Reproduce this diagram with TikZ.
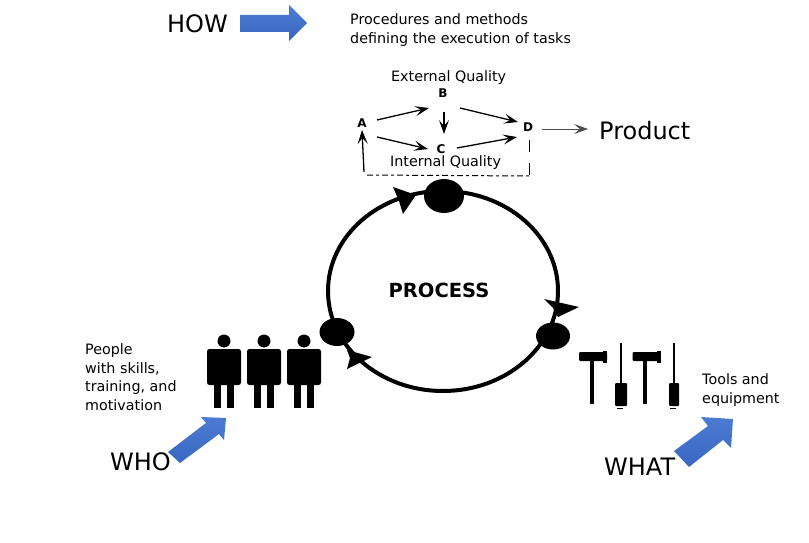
\documentclass[tikz,border=0pt]{standalone}
\usepackage{fontspec}
\setmainfont{DejaVu Sans}
\usetikzlibrary{arrows.meta,shapes.geometric}
\tikzset{
  big/.style={inner sep=0,font=\fontsize{24}{26}\selectfont},
  small/.style={inner sep=0,align=left,anchor=west,font=\fontsize{14.3}{18.5}\selectfont},
  letter/.style={inner sep=0,font=\bfseries\fontsize{12}{13}\selectfont},
  blob/.style={ellipse,fill=black,inner sep=0},
  arr/.style={line width=1.3pt,-{Stealth[length=14pt,width=10pt,inset=6pt]}},
  bluearrow/.style={draw=none,top color=blue1,bottom color=blue2},
}
\definecolor{blue1}{HTML}{4C7BD3}
\definecolor{blue2}{HTML}{3A68C0}
\begin{document}
\begin{tikzpicture}[x=1pt,y=-1pt]
\useasboundingbox (0,0) rectangle (809,543);
\fill[white] (0,0) rectangle (809,543);
% texts
\node[big,anchor=west] (how) at (167,24) {HOW};
\node[big,anchor=west] (who) at (110,462) {WHO};
\node[big,anchor=west] (what) at (604,467) {WHAT};
\node[big,anchor=west] (product) at (599,131) {Product};
\node[small] (proc) at (350,30) {Procedures and methods\\defining the execution of tasks};
\node[small] (ext) at (391,78) {External Quality};
\node[small] (int) at (390,163) {Internal Quality};
\node[small] (people) at (85,377) {People\\with skills,\\training, and\\motivation};
\node[small] (tools) at (702,390) {Tools and\\equipment};
\node[inner sep=0,font=\bfseries\fontsize{19.5}{20}\selectfont] (process) at (439,290) {PROCESS};
% blue arrows
\shade[bluearrow] (240,15) -- (289,15) -- (289,5) -- (307,23) -- (289,41) -- (289,32) -- (240,32) -- cycle;
\shade[bluearrow] (168,452) -- (206,423) -- (201,417) -- (226,418) -- (224,440) -- (219,434) -- (180,463) -- cycle;
\shade[bluearrow] (674,451) -- (708,426) -- (701,417) -- (733,419) -- (731,448) -- (723,440) -- (689,467) -- cycle;
% inner diagram
\node[letter] (A) at (362,123) {A};
\node[letter] (B) at (443,93) {B};
\node[letter] (C) at (441,149) {C};
\node[letter] (D) at (528,127) {D};
\draw[arr] ([shift={(15,-3)}]A.center) -- ([shift={(-14,15)}]B.center);
\draw[arr] ([shift={(15,14)}]A.center) -- ([shift={(-13,0)}]C.center);
\draw[arr] ([shift={(17,15)}]B.center) -- ([shift={(-10,-5)}]D.center);
\draw[arr] ([shift={(16,-1)}]C.center) -- ([shift={(-11,10)}]D.center);
\draw[line width=2.6pt] ([shift={(1,19)}]B.center) -- ([shift={(1,28)}]B.center);
\draw[arr] ([shift={(1,25)}]B.center) -- ([shift={(3,-15)}]C.center);
\draw[arr,line width=1pt,draw=black!70] ([shift={(14,2)}]D.center) -- ([shift={(-11,-2)}]product.west);
\draw[arr] ([shift={(2,49)}]A.center) -- ([shift={(0,7)}]A.center);
\draw[line width=1pt,dash pattern=on 6pt off 3pt on 3pt off 3pt] ([shift={(5,52)}]A.center) -- ([shift={(1,49)}]D.center);
\draw[line width=1pt,dash pattern=on 12pt off 11pt] ([shift={(1,48)}]D.center) -- ([shift={(1,13)}]D.center);
% main loop
\draw[line width=4pt] (443,291) ellipse [x radius=115,y radius=100];
\node[blob,minimum width=40pt,minimum height=34pt] (top) at (444,196) {};
\node[blob,minimum width=35pt,minimum height=28pt] (left) at (337,332) {};
\node[blob,minimum width=34pt,minimum height=27pt] (right) at (553,336) {};
\fill (393,187) -- (416,195) -- (403,214) -- (399,201) -- cycle;
\fill (544,299) -- (579,307) -- (558,317) -- (553,308) -- cycle;
\fill (347,350) -- (372,357) -- (347,369) -- (350,358) -- cycle;
% people
\foreach \dx in {0,40,80}{
  \fill (224+\dx,341) circle (6.5);
  \fill[rounded corners=2.5pt] (207+\dx,349) rectangle (241+\dx,385);
  \fill (214+\dx,384) rectangle (221+\dx,408);
  \fill (227+\dx,384) rectangle (234+\dx,408);
}
% tools
\foreach \dx in {0,53.5}{
  \fill[rounded corners=1pt] (579+\dx,352) rectangle (607+\dx,361);
  \fill (603+\dx,351) rectangle (607+\dx,363);
  \fill (589.5+\dx,360) rectangle (593.5+\dx,404);
}
\foreach \dx/\w in {0/12,53/10}{
  \fill (620+\dx,343) rectangle (622+\dx,384);
  \fill[rounded corners=1pt] (621+\dx-\w/2,383) rectangle (621+\dx+\w/2,406);
  \fill (617+\dx,408) rectangle (623+\dx,409);
}
\end{tikzpicture}
\end{document}
